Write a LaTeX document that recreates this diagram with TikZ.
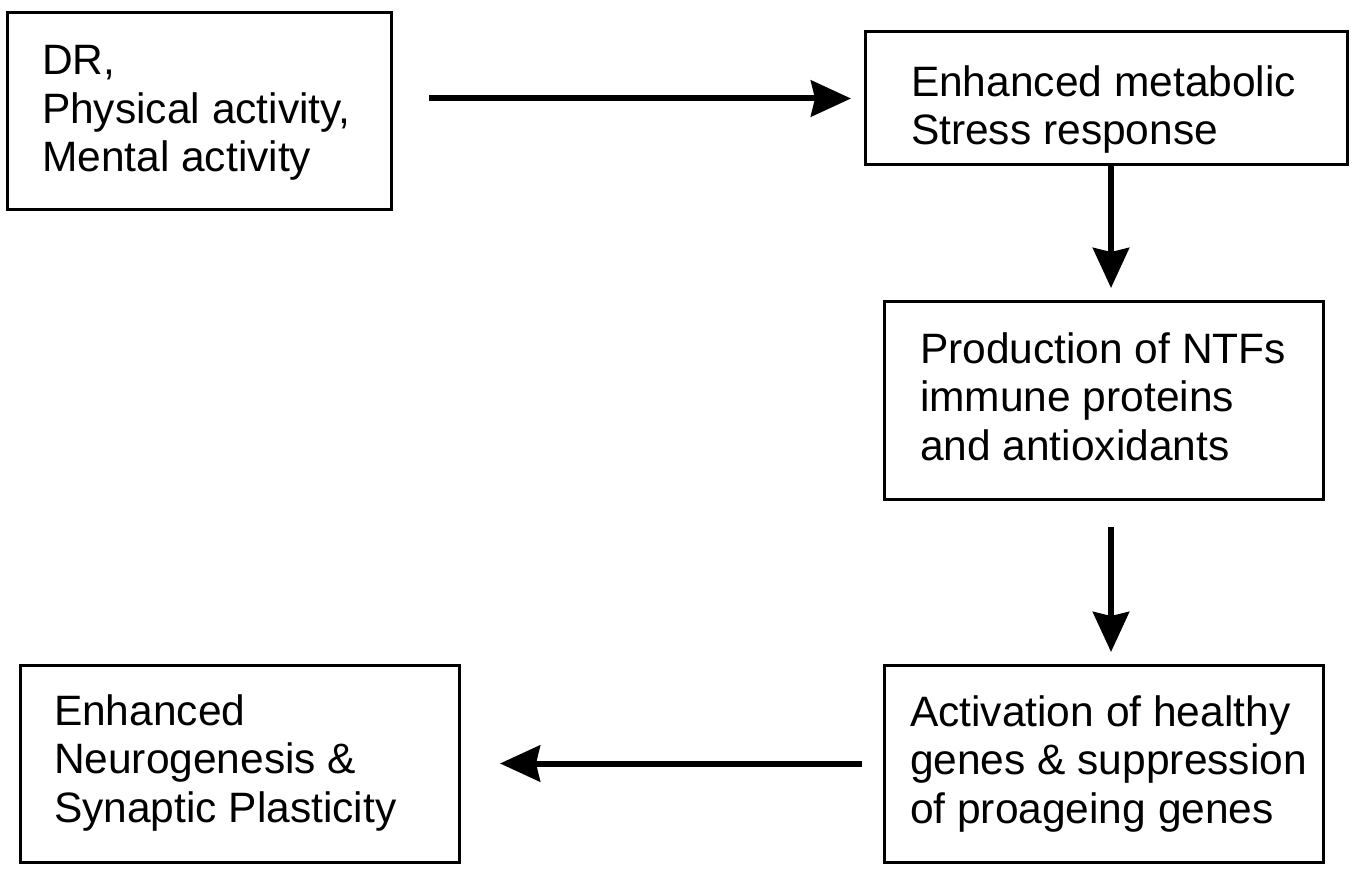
\documentclass[tikz,border=0pt]{standalone}
\usepackage{fontspec}
\setmainfont{Liberation Sans}
\usetikzlibrary{arrows.meta}
\tikzset{
  box/.style={draw=black, line width=3pt, inner sep=0pt, outer sep=0pt},
  txt/.style={inner sep=0pt, outer sep=0pt, align=left, anchor=base west,
    font=\fontsize{42.5}{48.5}\selectfont},
  arr/.style={line width=6pt, -{Stealth[length=40pt, width=36pt, inset=4pt]}}
}
\begin{document}
\begin{tikzpicture}[x=1pt,y=-1pt]
\useasboundingbox[fill=white] (0,0) rectangle (1359,874);
% boxes
\node[box, minimum width=383.5pt, minimum height=197pt] (b1) at (199.25,111.5) {};
\node[box, minimum width=482pt, minimum height=133pt] (b2) at (1106,98.5) {};
\node[box, minimum width=439pt, minimum height=197pt] (b3) at (1103.5,400.5) {};
\node[box, minimum width=439pt, minimum height=197pt] (b4) at (1103.5,763.5) {};
\node[box, minimum width=439pt, minimum height=197pt] (b5) at (239.5,763.5) {};
% texts (anchored at the baseline of their last line)
\node[txt] (t1) at (42,172) {DR,\\Physical activity,\\Mental activity};
\node[txt] (t2) at (911,145) {Enhanced metabolic\\Stress response};
\node[txt] (t3) at (920,460) {Production of NTFs\\immune proteins\\and antioxidants};
\node[txt] (t4) at (910,823) {Activation of healthy\\genes \& suppression\\of proageing genes};
\node[txt] (t5) at (54,822) {Enhanced\\Neurogenesis \&\\Synaptic Plasticity};
% connectors
\draw[arr, shorten <=38pt, shorten >=14pt] (b1.east |- b2.west) -- (b2.west);
\draw[arr, shorten >=14pt] ([xshift=7.5pt]b3.north |- b2.south) -- ([xshift=7.5pt]b3.north);
\draw[arr, shorten <=28pt, shorten >=13pt] ([xshift=7.5pt]b3.south) -- ([xshift=7.5pt]b4.north);
\draw[arr, shorten <=22pt, shorten >=41pt] (b4.west) -- (b5.east);
\end{tikzpicture}
\end{document}
